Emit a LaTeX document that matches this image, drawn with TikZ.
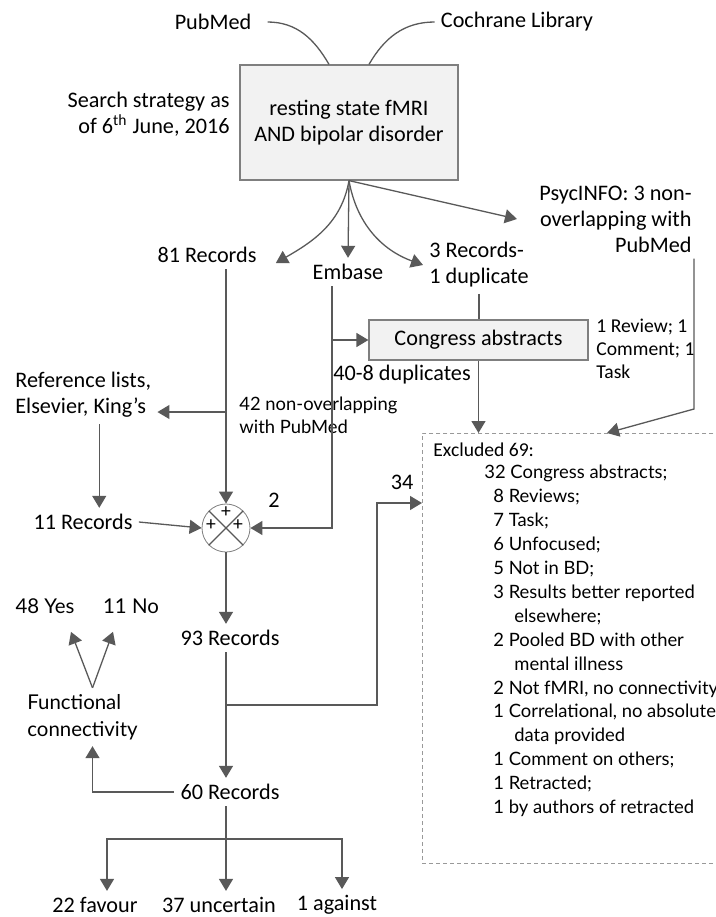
\documentclass[tikz,border=0pt]{standalone}
\usepackage{fontspec}
\setmainfont{Carlito}
\newfontfamily\latofont{Lato}
\usetikzlibrary{arrows.meta}
\definecolor{linegray}{HTML}{595959}
\definecolor{boxgray}{HTML}{F2F2F2}
\definecolor{edgegray}{HTML}{7F7F7F}

\begin{document}
\begin{tikzpicture}[x=0.5pt,y=-0.5pt]
   \tikzstyle{every node}=[font=\fontsize{11.1}{13}\selectfont, inner sep=3pt]
   \tikzstyle{small}=[font=\fontsize{9.8}{11.5}\selectfont]
   \tikzstyle{lato}=[font=\latofont\fontsize{9.2}{11.5}\selectfont]
   \tikzstyle{biglato}=[font=\latofont\fontsize{10.2}{13.5}\selectfont]
   \tikzstyle{box}=[draw=edgegray, fill=boxgray, line width=0.6pt]
   \tikzstyle{flow}=[draw=linegray, line width=0.65pt]
   \tikzstyle{arr}=[flow, -{Triangle[length=6pt,width=7pt]}]
   \useasboundingbox (0,0) rectangle (716,917);

\node (pubmed) at (213,22) {PubMed};
\node (cochrane) at (517,22) {Cochrane Library};
\node[box, minimum width=109pt, minimum height=57.5pt, align=center] (search) at (349,122.5) {resting state fMRI\\AND bipolar disorder};
\node[anchor=east, align=right] (strategy) at (236,114) {Search strategy as\\of 6\textsuperscript{th} June, 2016};
\node (rec81) at (207,255) {81 Records};
\node (embase) at (348,272) {Embase};
\node[anchor=west, align=left] (rec3) at (423,265) {3 Records-\\1 duplicate};
\node[anchor=east, align=right] (psyc) at (698,219) {PsycINFO: 3 non-\\overlapping with\\PubMed};
\node[box, minimum width=109.5pt, minimum height=20pt] (congress) at (478.5,340) {Congress abstracts};
\node[anchor=west] (dup40) at (327,375) {40-8 duplicates};
\node[small, anchor=west, align=left] (review) at (590,349) {1 Review; 1\\Comment; 1\\Task};
\node[anchor=west, align=left] (reflist) at (9,395) {Reference lists,\\Elsevier, King’s};
\node[lato, anchor=west, align=left] (non42) at (233,415) {42 non-overlapping\\with PubMed};
\node (rec11) at (83,522) {11 Records};
\node[circle, draw=edgegray, fill=white, minimum size=24pt, inner sep=0] (sum) at (226,528) {};
\node (two) at (274,500) {2};
\node (n34) at (402,482) {34};
\node[draw=gray!80, dashed, dash pattern=on 2pt off 1.5pt, minimum width=170pt, minimum height=215pt, anchor=north west, inner sep=0] (excl) at (422,433) {};
\node[small, anchor=west] (exhead) at (427,450) {Excluded 69:};
\node[lato, anchor=north west, align=left, inner sep=0, font=\latofont\fontsize{9.2}{11.95}\selectfont] (exlist) at (484,465) {32 Congress abstracts;\\
   \hspace*{4.5pt}8 Reviews;\\
   \hspace*{4.5pt}7 Task;\\
   \hspace*{4.5pt}6 Unfocused;\\
   \hspace*{4.5pt}5 Not in BD;\\
   \hspace*{4.5pt}3 Results better reported\\
   \hspace*{15pt}elsewhere;\\
   \hspace*{4.5pt}2 Pooled BD with other\\
   \hspace*{15pt}mental illness\\
   \hspace*{4.5pt}2 Not fMRI, no connectivity\\
   \hspace*{4.5pt}1 Correlational, no absolute\\
   \hspace*{15pt}data provided\\
   \hspace*{4.5pt}1 Comment on others;\\
   \hspace*{4.5pt}1 Retracted;\\
   \hspace*{4.5pt}1 by authors of retracted};
\node (rec93) at (230,638) {93 Records};
\node (rec60) at (230,792) {60 Records};
\node[biglato, anchor=west, align=left] (func) at (21,717) {Functional\\connectivity};
\node[biglato] (yes) at (45,606) {48 Yes};
\node[biglato] (no) at (131,606) {11 No};
\node (favour) at (95,905) {22 favour};
\node (uncertain) at (219,905) {37 uncertain};
\node (against) at (337,905) {1 against};

\draw[flow] (sum.north east) -- (sum.south west);
\draw[flow] (sum.north west) -- (sum.south east);
\node[small, inner sep=0] (plustop) at ([yshift=8pt]sum.center) {+};
\node[small, inner sep=0] (plusleft) at ([shift={(-7.5pt,1.5pt)}]sum.center) {+};
\node[small, inner sep=0] (plusright) at ([shift={(6pt,1.5pt)}]sum.center) {+};

\draw[flow] ([xshift=5pt]pubmed.east) to[out=0,in=120] ([xshift=-10pt]search.north);
\draw[flow] (cochrane.west) to[out=180,in=60] ([xshift=10pt]search.north);
\draw[arr] (search.south) to[out=-100,in=30] ([shift={(6.5pt,-4pt)}]rec81.east);
\draw[arr] (search.south) -- (embase.north);
\draw[arr] (search.south) to[out=-80,in=160] (rec3.west);
\draw[arr] (search.south) -- ([xshift=-8pt]psyc.west);

\coordinate (refin) at ([yshift=-8.5pt]reflist.east);
\coordinate (emb) at ([xshift=-8pt]embase.south);
\coordinate (pbend) at (694,409);
\coordinate (j34) at (377,503);
\coordinate (fork) at (226,705);
\coordinate (split) at (226,839);
\coordinate (fv) at ([xshift=5pt]func.north);

\draw[arr] (sum.north |- rec81.south) -- (sum.north);
\draw[arr] (refin -| sum.north) -- (refin);
\draw[arr] ([xshift=8pt]reflist.south) -- ([xshift=8pt]reflist.south |- rec11.north);
\draw[arr] (rec11.east) -- (sum.west);
\draw[arr] (emb) |- (sum.east);
\draw[arr] (emb |- congress.west) -- (congress.west);
\draw[flow] (rec3.south) -- (rec3.south |- congress.north);
\draw[arr] (congress.south) -- (congress.south |- excl.north);
\draw[arr] (pbend |- psyc.south) -- (pbend) -- ([xshift=92.5pt]excl.north west);
\draw[arr] (sum.south) -- (sum.south |- rec93.north);
\draw[arr] (sum.south |- rec93.south) -- (sum.south |- rec60.north);
\draw[arr] (fork) -| (j34) -- (j34 -| excl.west);
\draw[arr] (rec60.west) -| ([xshift=5pt]func.south);
\draw[arr] (fv) -- ([shift={(13pt,-6pt)}]yes.south);
\draw[arr] (fv) -- ([shift={(-9pt,-6pt)}]no.south);
\draw[flow] (sum.south |- rec60.south) -- (split);
\draw[arr] (split) -| ([xshift=6pt]favour.north);
\draw[arr] (split) -- (split |- uncertain.north);
\draw[arr] (split) -| ([xshift=2.5pt]against.north);

\end{tikzpicture}
\end{document}
